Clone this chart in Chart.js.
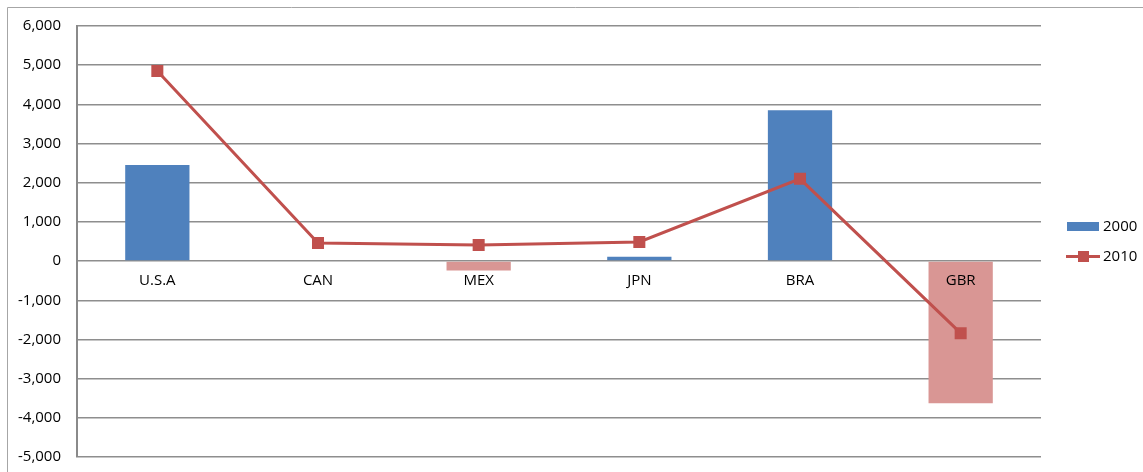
<!DOCTYPE html>
<html>
<head>
<meta charset="utf-8">
<script src="https://cdn.jsdelivr.net/npm/chart.js@4/dist/chart.umd.min.js"></script>
<style>
  html, body { margin: 0; padding: 0; background: #ffffff; }
  #wrap { position: relative; width: 1143px; height: 472px; }
</style>
</head>
<body>
<div id="wrap"><canvas id="c" width="1143" height="472"></canvas></div>
<script>
// Country codes along the category axis
const countries = ['U.S.A', 'CAN', 'MEX', 'JPN', 'BRA', 'GBR'];
// Values for each year
const values2000 = [2450, 0, -240, 110, 3850, -3630];
const values2010 = [4850, 460, 410, 490, 2100, -1840];
// Value axis ticks
const yTicks = [-5000, -4000, -3000, -2000, -1000, 0, 1000, 2000, 3000, 4000, 5000, 6000];

const BLUE = '#4F81BD';
const PINK = '#D99694';
const RED = '#C0504D';
const GRID = '#8E8E8E';
const FONT = '"Open Sans", "Noto Sans", sans-serif';

// Frame around the whole chart (top and left edges)
const framePlugin = {
  id: 'frame',
  beforeDraw(chart) {
    const ctx = chart.ctx;
    ctx.save();
    ctx.strokeStyle = '#A6A6A6';
    ctx.lineWidth = 1;
    ctx.beginPath();
    ctx.moveTo(7.5, chart.height);
    ctx.lineTo(7.5, 7.5);
    ctx.lineTo(chart.width, 7.5);
    ctx.stroke();
    ctx.restore();
  }
};

// Legend on the right: a bar swatch and a line-with-marker swatch
const sideLegend = {
  id: 'sideLegend',
  afterDraw(chart) {
    const ctx = chart.ctx;
    const bar = chart.data.datasets.find(d => d.type === 'bar');
    const line = chart.data.datasets.find(d => d.type === 'line');
    ctx.save();
    ctx.font = '15px ' + FONT;
    ctx.textBaseline = 'middle';
    ctx.textAlign = 'left';
    // bar entry
    ctx.fillStyle = BLUE;
    ctx.fillRect(1067, 222, 32, 9);
    ctx.fillStyle = '#000';
    ctx.fillText(bar.label, 1103, 227);
    // line entry
    ctx.strokeStyle = RED;
    ctx.lineWidth = 3;
    ctx.beginPath();
    ctx.moveTo(1066, 256.5);
    ctx.lineTo(1100, 256.5);
    ctx.stroke();
    ctx.fillStyle = RED;
    ctx.fillRect(1078, 251, 11, 11);
    ctx.fillStyle = '#000';
    ctx.fillText(line.label, 1103, 257);
    ctx.restore();
  }
};

new Chart(document.getElementById('c'), {
  type: 'bar',
  data: {
    labels: countries,
    datasets: [
      {
        type: 'line',
        label: '2010',
        data: values2010,
        borderColor: RED,
        borderWidth: 3,
        pointStyle: 'rect',
        pointRadius: 8.5,
        pointBackgroundColor: RED,
        pointBorderColor: RED,
        pointBorderWidth: 0,
        tension: 0,
        order: 0
      },
      {
        type: 'bar',
        label: '2000',
        data: values2000,
        backgroundColor: values2000.map(v => v < 0 ? PINK : BLUE),
        borderWidth: 0,
        barPercentage: 0.5,
        categoryPercentage: 0.8,
        order: 1
      }
    ]
  },
  options: {
    responsive: false,
    animation: false,
    layout: { padding: { left: 0, top: 26, right: 102, bottom: 15 } },
    plugins: {
      legend: { display: false },
      tooltip: { enabled: false }
    },
    scales: {
      x: {
        position: { y: 0 },
        afterFit(scale) { scale.height = 0; },
        grid: { display: false, drawTicks: false },
        border: { display: false },
        ticks: {
          z: 1,
          autoSkip: false,
          maxRotation: 0,
          padding: 11,
          color: '#000',
          font: { family: FONT, size: 15 }
        }
      },
      y: {
        min: -5000,
        max: 6000,
        afterFit(scale) {
          scale.width = 77;
          scale.paddingTop = 10;
          scale.paddingBottom = 10;
        },
        afterBuildTicks(scale) { scale.ticks = yTicks.map(v => ({ value: v })); },
        grid: { color: GRID, lineWidth: 1.5, drawTicks: false },
        border: { display: true, color: '#8A8A8A', width: 2 },
        ticks: {
          padding: 16,
          color: '#000',
          font: { family: FONT, size: 15 },
          callback: v => v.toLocaleString('en-US')
        }
      }
    }
  },
  plugins: [framePlugin, sideLegend]
});
</script>
</body>
</html>
